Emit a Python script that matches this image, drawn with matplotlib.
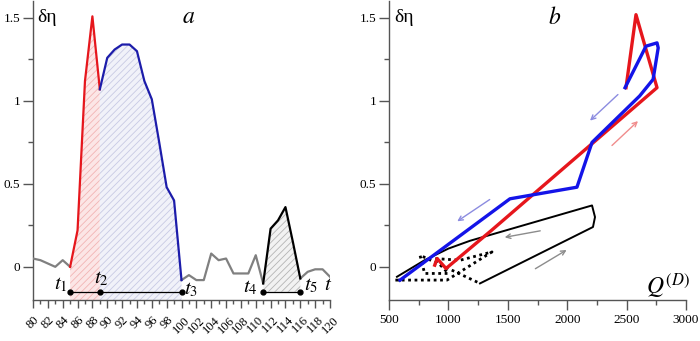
import matplotlib
matplotlib.use("Agg")
import matplotlib.pyplot as plt
from matplotlib.ticker import MultipleLocator

plt.rcParams['font.family'] = ['Liberation Serif', 'DejaVu Serif']
plt.rcParams['mathtext.fontset'] = 'stix'
plt.rcParams['hatch.linewidth'] = 0.6

# ---------------- data: panel a (time series) ----------------
gray_t1 = [80, 81, 82, 83, 84, 85]
gray_v1 = [0.05, 0.04, 0.02, 0.0, 0.04, 0.0]
red_t = [85, 86, 87, 88, 89]
red_v = [0.0, 0.22, 1.12, 1.51, 1.07]
blue_t = [89, 90, 91, 92, 93, 94, 95, 96, 97, 98, 99, 100]
blue_v = [1.07, 1.26, 1.31, 1.34, 1.34, 1.30, 1.12, 1.01, 0.75, 0.48, 0.40, -0.08]
gray_t2 = [100, 101, 102, 103, 104, 105, 106, 107, 108, 109, 110, 111]
gray_v2 = [-0.08, -0.05, -0.08, -0.08, 0.08, 0.04, 0.05, -0.04, -0.04, -0.04, 0.07, -0.10]
black_t = [111, 112, 113, 114, 115, 116]
black_v = [-0.10, 0.23, 0.28, 0.36, 0.15, -0.07]
gray_t3 = [116, 117, 118, 119, 120]
gray_v3 = [-0.07, -0.03, -0.015, -0.015, -0.06]
phase_t = [85, 89, 100]
phase2_t = [111, 116]
phase_labels = ['$t_1$', '$t_2$', '$t_3$', '$t_4$', '$t_5$']

# ---------------- data: panel b (hysteresis) ----------------
red_q = [885, 905, 980, 1363, 2756, 2579, 2495]
red_d = [0.01, 0.05, -0.01, 0.22, 1.08, 1.52, 1.08]
blue_q = [2487, 2614, 2663, 2756, 2766, 2723, 2610, 2209, 2082, 1518, 593]
blue_d = [1.08, 1.26, 1.33, 1.35, 1.32, 1.13, 1.03, 0.75, 0.48, 0.41, -0.08]
dot_q = [600, 550, 988, 1367, 1100, 880, 1000, 813, 800, 761, 1266]
dot_d = [-0.08, -0.08, -0.08, 0.09, 0.04, 0.05, -0.04, -0.04, -0.04, 0.07, -0.10]
blk_q = [1266, 2217, 2234, 2209, 1182, 1000, 800, 567]
blk_d = [-0.10, 0.24, 0.30, 0.37, 0.157, 0.11, 0.04, -0.06]
# arrows: (q_start, d_start, q_end, d_end, color)
arrows = [
    (2444, 1.05, 2175, 0.87, '#8c8ce0'),
    (2360, 0.72, 2613, 0.89, '#f08c8c'),
    (1367, 0.415, 1055, 0.265, '#8c8ce0'),
    (1796, 0.22, 1451, 0.175, '#8c8c8c'),
    (1712, -0.02, 2015, 0.11, '#8c8c8c'),
]

RED = '#e6161c'
BLUE_A = '#1c1caa'
BLUE_B = '#1414e8'
GRAY = '#808080'
SPINE = '#555555'

fig = plt.figure(figsize=(7.0, 3.41), dpi=100)
ax1 = fig.add_axes([33/700, 41/341, 297/700, 298.6/341])
ax2 = fig.add_axes([389/700, 41/341, 297/700, 298.6/341])

for ax in (ax1, ax2):
    ax.set_ylim(-0.2, 1.6)
    for s in ('top', 'right'):
        ax.spines[s].set_visible(False)
    for s in ('left', 'bottom'):
        ax.spines[s].set_color(SPINE)
        ax.spines[s].set_linewidth(1.0)
    ax.yaxis.set_major_locator(MultipleLocator(0.5))
    ax.yaxis.set_minor_locator(MultipleLocator(0.25))
    ax.set_yticks([0, 0.5, 1, 1.5])
    ax.set_yticklabels(['0', '0.5', '1', '1.5'])
    ax.tick_params(which='major', direction='out', length=7, width=1.0, color=SPINE, labelsize=9.5, pad=2)
    ax.tick_params(which='minor', direction='out', length=3.5, width=1.0, color=SPINE)

# ---------------- panel a ----------------
ax1.set_xlim(80, 120)
ax1.xaxis.set_major_locator(MultipleLocator(2))
ax1.xaxis.set_minor_locator(MultipleLocator(1))
ax1.tick_params(axis='x', which='major', length=6, labelsize=9, pad=4)
ax1.tick_params(axis='x', which='minor', length=3)
for lab in ax1.get_xticklabels():
    lab.set_rotation(45)
    lab.set_ha('center')
    lab.set_va('top')

ax1.fill_between(red_t, red_v, -0.2, facecolor='#fce6e6', edgecolor='#f2b4b4', hatch='/////', linewidth=0, zorder=1)
ax1.fill_between(blue_t, blue_v, -0.2, facecolor='#f1f2f9', edgecolor='#c8cae4', hatch='/////', linewidth=0, zorder=1)
ax1.fill_between(black_t, black_v, -0.15, facecolor='#f2f2f2', edgecolor='#b4b4b4', hatch='/////', linewidth=0, zorder=1)

ax1.plot(gray_t1, gray_v1, color=GRAY, lw=1.6, zorder=3)
ax1.plot(gray_t2, gray_v2, color=GRAY, lw=1.6, zorder=3)
ax1.plot(gray_t3, gray_v3, color=GRAY, lw=1.6, zorder=3)
ax1.plot(red_t, red_v, color=RED, lw=1.6, zorder=4)
ax1.plot(blue_t, blue_v, color=BLUE_A, lw=1.6, zorder=4)
ax1.plot(black_t, black_v, color='black', lw=1.6, zorder=4)

ax1.plot(phase_t, [-0.15] * len(phase_t), color='black', lw=0.9, marker='o', ms=3.5, zorder=5)
ax1.plot(phase2_t, [-0.15] * len(phase2_t), color='black', lw=0.9, marker='o', ms=3.5, zorder=5)

lab_pos = [(83.8, -0.11), (89.2, -0.07), (101.3, -0.14), (109.3, -0.125), (117.4, -0.115)]
for (x, y), s in zip(lab_pos, phase_labels):
    ax1.text(x, y, s, fontsize=15, ha='center', va='center', zorder=6)
ax1.text(119.7, -0.11, '$t$', fontsize=15, ha='center', va='center')
ax1.text(80.6, 1.5, 'δη', fontsize=14, ha='left', va='center')
ax1.text(100.9, 1.5, '$a$', fontsize=17, ha='center', va='center')

# ---------------- panel b ----------------
ax2.set_xlim(500, 3000)
ax2.xaxis.set_major_locator(MultipleLocator(500))
ax2.xaxis.set_minor_locator(MultipleLocator(250))
ax2.tick_params(axis='x', which='major', length=7, labelsize=9.5, pad=3)

ax2.plot(dot_q, dot_d, color='black', lw=2.0, ls=(0, (1, 1.3)), zorder=2)
ax2.plot(blk_q, blk_d, color='black', lw=1.4, zorder=3)
ax2.plot(red_q, red_d, color=RED, lw=2.4, zorder=4)
ax2.plot(blue_q, blue_d, color=BLUE_B, lw=2.4, zorder=5)

for q0, d0, q1, d1, c in arrows:
    ax2.annotate('', xy=(q1, d1), xytext=(q0, d0),
                 arrowprops=dict(arrowstyle='->', color=c, lw=1.0, mutation_scale=8))

ax2.text(545, 1.5, 'δη', fontsize=14, ha='left', va='center')
ax2.text(1897, 1.5, '$b$', fontsize=17, ha='center', va='center')
ax2.text(2848, -0.115, '$Q^{(D)}$', fontsize=17, ha='center', va='center')

fig.savefig('out.png', dpi=100)
